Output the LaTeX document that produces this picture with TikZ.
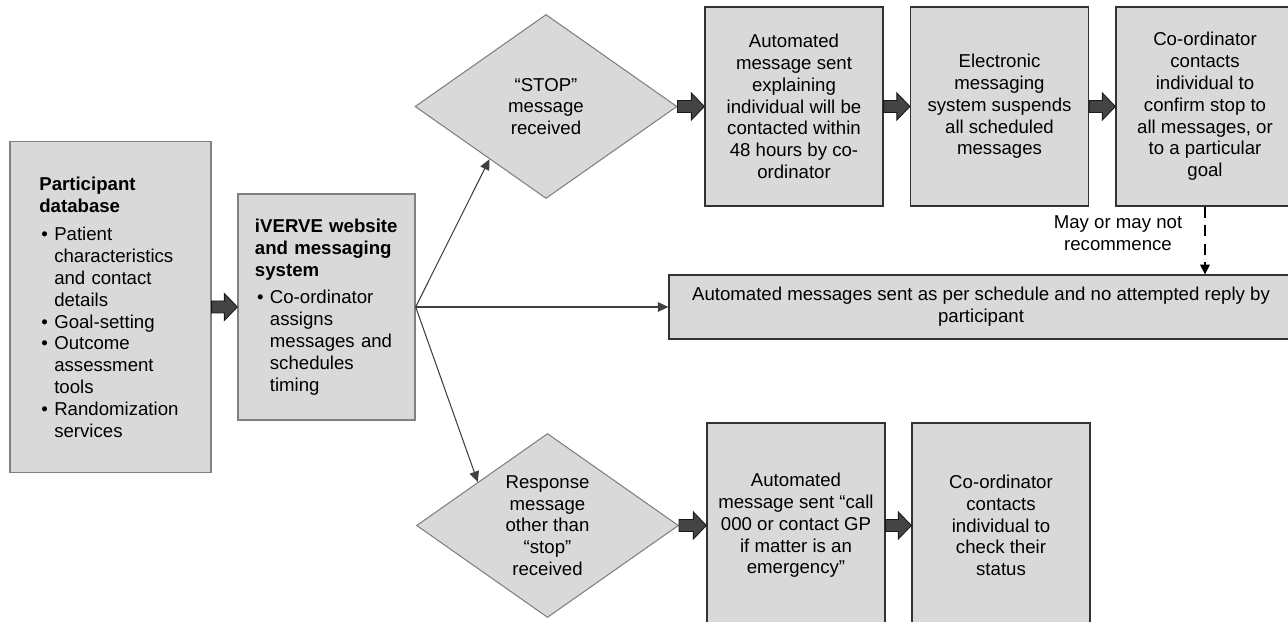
\documentclass[tikz,border=0pt]{standalone}
\usepackage{fontspec}
\setmainfont{Liberation Sans}
\usepackage{enumitem}
\usetikzlibrary{shapes.geometric,arrows.meta,calc}

\definecolor{boxgray}{RGB}{217,217,217}
\definecolor{edgegray}{RGB}{128,128,128}
\definecolor{linegray}{RGB}{64,64,64}
\definecolor{fatgray}{RGB}{68,68,68}

\tikzset{
  every node/.style={font=\fontsize{10.6pt}{12.4pt}\selectfont},
  box/.style={draw=black!80, line width=0.7pt, fill=boxgray, align=center, inner sep=0pt,
    minimum width=3.56cm, minimum height=3.98cm},
  listbox/.style={draw=edgegray, line width=0.7pt, fill=boxgray, align=left, inner ysep=0pt},
  choice/.style={diamond, aspect=1.42, draw=edgegray, line width=0.6pt, fill=boxgray,
    align=center, inner sep=0pt, minimum width=5.24cm, minimum height=3.68cm},
  link/.style={draw=linegray, line width=0.6pt, -{Triangle[length=6pt,width=5.5pt]}},
  maybe/.style={draw=black, line width=0.6pt, dash pattern=on 6.5pt off 4pt,
    -{Triangle[length=5.5pt,width=5.5pt]}}
}

% fat grey arrow from one node to the next one on its right
\newcommand{\blockarrow}[2]{%
  \filldraw[fill=fatgray, draw=black!90, line width=0.5pt]
    ($(#1.east)+(0,0.6)$) -- ($(#2.west)+(-1.3,0.6)$) -- ($(#2.west)+(-1.3,1.35)$)
    -- (#2.west) -- ($(#2.west)+(-1.3,-1.35)$) -- ($(#2.west)+(-1.3,-0.6)$)
    -- ($(#1.east)+(0,-0.6)$) -- cycle;}

\begin{document}
\begin{tikzpicture}[scale=0.2]
\useasboundingbox (0,0) rectangle (128.8,-62.2);

% left column
\node[listbox, text width=81pt, inner xsep=16.7pt, minimum height=6.62cm] (pd) at (11.05,-30.7) {%
{\bfseries Participant\\database\par}
\begin{itemize}[nosep, topsep=4pt, leftmargin=8.5pt, labelsep=3.6pt]
\item Patient\\characteristics\\and contact\\details
\item Goal-setting
\item Outcome\\assessment\\tools
\item \mbox{Randomization}\\services
\end{itemize}};
\node[listbox, text width=81.4pt, inner xsep=9.7pt, minimum height=4.52cm] (ive) at (32.65,-30.7) {%
{\bfseries iVERVE website\\and messaging\\system\par}
\begin{itemize}[nosep, topsep=3.5pt, leftmargin=8.5pt, labelsep=3.6pt]
\item Co-ordinator\\assigns\\messages and\\schedules\\timing
\end{itemize}};

% decisions
\node[choice] (stop) at (54.6,-10.65) {``STOP''\\message\\received};
\node[choice] (resp) at (54.75,-52.55) {Response\\message\\other than\\``stop''\\received};

% top row
\node[box] (warn) at (79.4,-10.65) {Automated\\message sent\\explaining\\individual will be\\contacted within\\48 hours by co-\\ordinator};
\node[box] (suspend) at (99.95,-10.65) {Electronic\\messaging\\system suspends\\all scheduled\\messages};
\node[box] (confirm) at (120.5,-10.65) {Co-ordinator\\contacts\\individual to\\confirm stop to\\all messages, or\\to a particular\\goal};

% middle row
\node[box, minimum width=12.48cm, minimum height=1.28cm] (sched) at (98.1,-30.7) {Automated messages sent as per schedule and no attempted reply by\\participant};
\node[align=center] (maylbl) at (111.8,-23.3) {May or may not\\recommence};

% bottom row (runs off the lower edge)
\node[box, minimum height=4.1cm] (emerg) at (79.6,-52.55) {Automated\\message sent ``call\\000 or contact GP\\if matter is an\\emergency''};
\node[box, minimum height=4.1cm] (check) at (100.1,-52.55) {Co-ordinator\\contacts\\individual to\\check their\\status};

% connectors
\blockarrow{pd}{ive}
\draw[link] (ive.east) -- ($(stop.west)!0.57!(stop.south)$);
\draw[link] (ive.east) -- (sched.west);
\draw[link] (ive.east) -- ($(resp.west)!0.47!(resp.north)$);
\blockarrow{stop}{warn}
\blockarrow{warn}{suspend}
\blockarrow{suspend}{confirm}
\draw[maybe] (confirm.south) -- (confirm.south |- sched.north);
\blockarrow{resp}{emerg}
\blockarrow{emerg}{check}
\end{tikzpicture}
\end{document}
